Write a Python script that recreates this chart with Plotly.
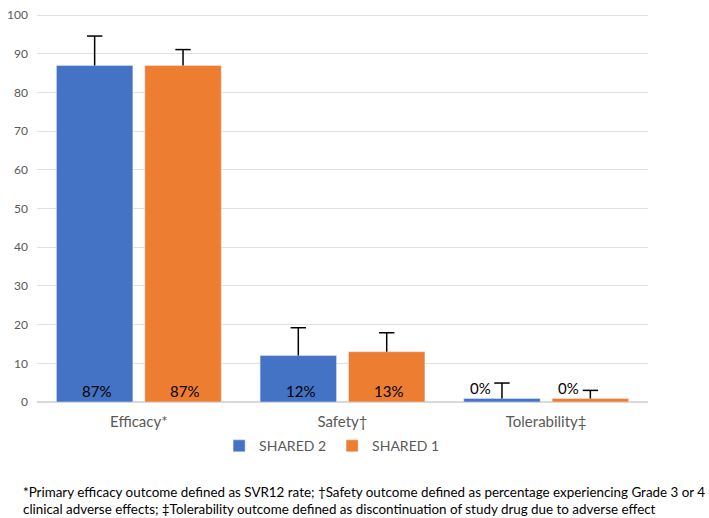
import plotly.graph_objects as go

categories = ["Efficacy*", "Safety†", "Tolerability‡"]
shared2_values = [87, 12, 0.9]
shared1_values = [87, 13, 0.9]
shared2_err_plus = [7.6, 7.2, 4.0]
shared1_err_plus = [4.1, 4.9, 2.1]
shared2_labels = ["87%", "12%", "0%"]
shared1_labels = ["87%", "13%", "0%"]
y_ticks = [0, 10, 20, 30, 40, 50, 60, 70, 80, 90, 100]
footnote = ("*Primary efficacy outcome defined as SVR12 rate; †Safety outcome defined as percentage experiencing Grade 3 or 4<br>"
            "clinical adverse effects; ‡Tolerability outcome defined as discontinuation of study drug due to adverse effect")

BLUE = "#4472C4"
ORANGE = "#ED7D31"
FONT = "Lato"
GAP = 0.132

fig = go.Figure()
series = [
    ("SHARED 2", shared2_values, shared2_err_plus, BLUE, "a"),
    ("SHARED 1", shared1_values, shared1_err_plus, ORANGE, "b"),
]
for name, vals, errs, color, grp in series:
    # bar with stem-only error bar (no caps)
    fig.add_trace(go.Bar(
        name=name, x=categories, y=vals, marker_color=color, offsetgroup=grp,
        error_y=dict(type="data", array=errs, symmetric=False, arrayminus=[0] * len(vals),
                     color="black", thickness=1.5, width=0),
    ))
for name, vals, errs, color, grp in series:
    # cap at the top of each error bar
    fig.add_trace(go.Scatter(
        x=categories, y=[v + e for v, e in zip(vals, errs)], mode="markers",
        offsetgroup=grp, showlegend=False, hoverinfo="skip",
        marker=dict(symbol="line-ew", size=11, color="black",
                    line=dict(color="black", width=1.5)),
    ))

annotations = []
for i, cat in enumerate(categories):
    small = shared2_values[i] < 3
    for labels, vals, shift in ((shared2_labels, shared2_values, -44), (shared1_labels, shared1_values, 44)):
        annotations.append(dict(
            x=cat, y=0, xref="x", yref="y", text=labels[i], showarrow=False,
            xshift=shift + (-22 if small else 2), yshift=(3 if small else 0),
            yanchor="bottom", font=dict(family=FONT, size=15, color="black"),
        ))

annotations.append(dict(
    x=-0.027, y=-0.205, xref="paper", yref="paper", xanchor="left", yanchor="top",
    align="left", showarrow=False, text=footnote,
    font=dict(family=FONT, size=13.4, color="black"),
))

fig.update_layout(
    width=709, height=518,
    margin=dict(l=32, r=61, t=7, b=116),
    paper_bgcolor="white", plot_bgcolor="white",
    barmode="group", bargap=GAP, bargroupgap=0.135,
    scattermode="group", scattergap=GAP,
    font=dict(family=FONT, color="#595959"),
    showlegend=True,
    legend=dict(orientation="h", x=0.483, xanchor="center", y=-0.114, yanchor="middle",
                font=dict(family=FONT, size=14, color="#595959"), itemwidth=30,
                entrywidth=68, traceorder="normal"),
    annotations=annotations,
)
fig.update_xaxes(showgrid=False, showline=True, linecolor="#d9d9d9", ticks="",
                 tickfont=dict(family=FONT, size=15, color="#595959"), ticklabelstandoff=6)
fig.update_yaxes(range=[0, 100.3], tickvals=y_ticks, showgrid=True, gridcolor="#e0e0e0",
                 zeroline=True, zerolinecolor="#d9d9d9", showline=False,
                 tickfont=dict(family=FONT, size=12, color="#595959"), ticklabelstandoff=8)

fig.write_html("out.html", config={"displayModeBar": False},
               post_script="document.body.style.margin='0';")
